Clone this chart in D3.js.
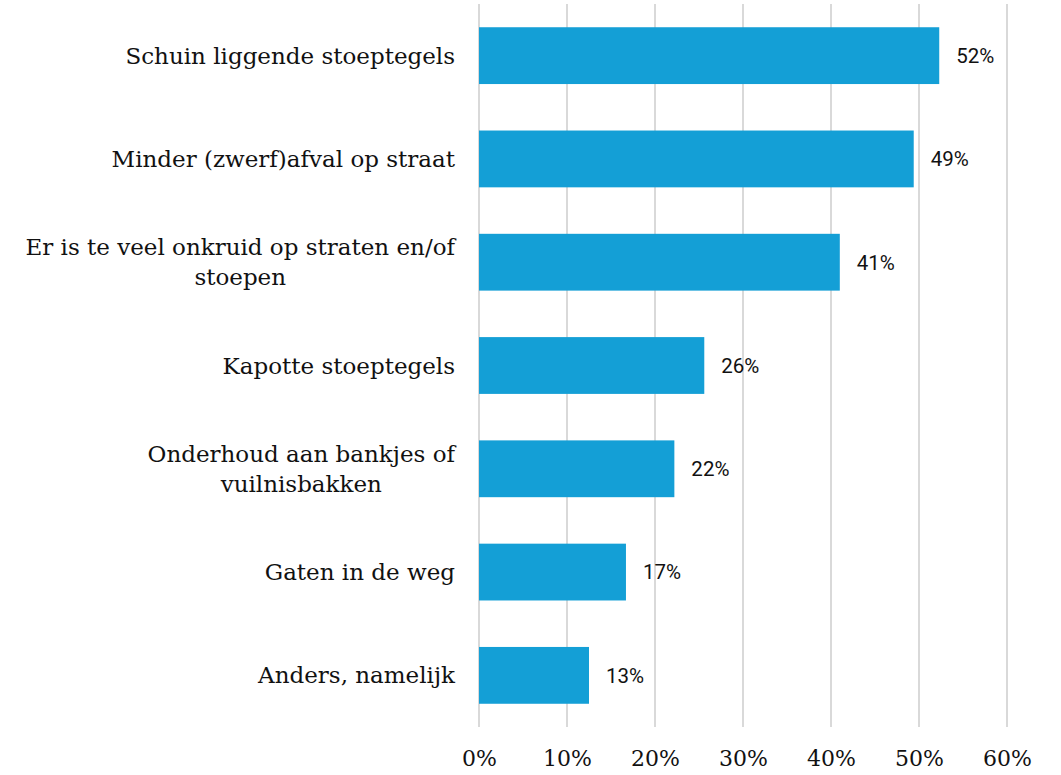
<!DOCTYPE html>
<html>
<head>
<meta charset="utf-8">
<script src="https://cdn.jsdelivr.net/npm/d3@7"></script>
<style>
body { margin: 0; background: #fff; }
</style>
</head>
<body>
<script>
var width = 1061;
var height = 775;

// data
var categories = [
  "Schuin liggende stoeptegels",
  "Minder (zwerf)afval op straat",
  "Er is te veel onkruid op straten en/of\nstoepen",
  "Kapotte stoeptegels",
  "Onderhoud aan bankjes of\nvuilnisbakken",
  "Gaten in de weg",
  "Anders, namelijk"
];
var values = [52.3, 49.4, 41.0, 25.6, 22.2, 16.7, 12.5];
var ticks = [0, 10, 20, 30, 40, 50, 60];

var svg = d3.select("body")
.append("svg")
.attr("width", width)
.attr("height", height);

var x = d3.scaleLinear()
.domain([0, 60])
.range([479, 1007]);

var y = d3.scaleBand()
.domain(categories)
.range([4, 727])
.paddingInner(0.45)
.paddingOuter(0.225);

// gridlines
svg.selectAll(".grid")
.data(ticks)
.enter()
.append("line")
.attr("x1", function(d){ return x(d); })
.attr("x2", function(d){ return x(d); })
.attr("y1", 4)
.attr("y2", 727)
.attr("stroke", "#d9d9d9")
.attr("stroke-width", 2);

// x axis labels
var axis = d3.axisBottom(x)
.tickValues(ticks)
.tickSize(0)
.tickPadding(0)
.tickFormat(function(d){ return d + "%"; });

var gx = svg.append("g")
.attr("transform", "translate(0,766)")
.call(axis);
gx.select(".domain").remove();
gx.selectAll("text")
.attr("dy", 0)
.attr("fill", "#111")
.attr("font-family", "DejaVu Serif")
.attr("font-size", "22px");

// bars
svg.selectAll(".bar")
.data(values)
.enter()
.append("rect")
.attr("x", x(0))
.attr("y", function(d, i){ return y(categories[i]); })
.attr("width", function(d){ return x(d) - x(0); })
.attr("height", y.bandwidth())
.attr("fill", "#149fd6");

// value labels
svg.selectAll(".val")
.data(values)
.enter()
.append("text")
.attr("x", function(d){ return x(d) + 17; })
.attr("y", function(d, i){ return y(categories[i]) + y.bandwidth() / 2; })
.attr("dy", "0.36em")
.attr("fill", "#111")
.attr("font-family", "Roboto")
.attr("font-size", "20.5px")
.text(function(d){ return Math.round(d) + "%"; });

// category labels, lines centred inside a right-aligned block
var labelRight = 455;
var lineHeight = 30;
categories.forEach(function(c, i){
  var lines = c.split("\n");
  var cy = y(c) + y.bandwidth() / 2;
  var g = svg.append("g");
  var texts = g.selectAll("text")
  .data(lines)
  .enter()
  .append("text")
  .attr("y", function(d, j){ return cy + 8 + (j - (lines.length - 1) / 2) * lineHeight; })
  .attr("fill", "#111")
  .attr("font-family", "DejaVu Serif")
  .attr("font-size", "23px")
  .attr("text-anchor", "middle")
  .text(function(d){ return d; });
  var maxW = 0;
  texts.each(function(){ maxW = Math.max(maxW, this.getComputedTextLength()); });
  texts.attr("x", labelRight - maxW / 2);
});
</script>
</body>
</html>
